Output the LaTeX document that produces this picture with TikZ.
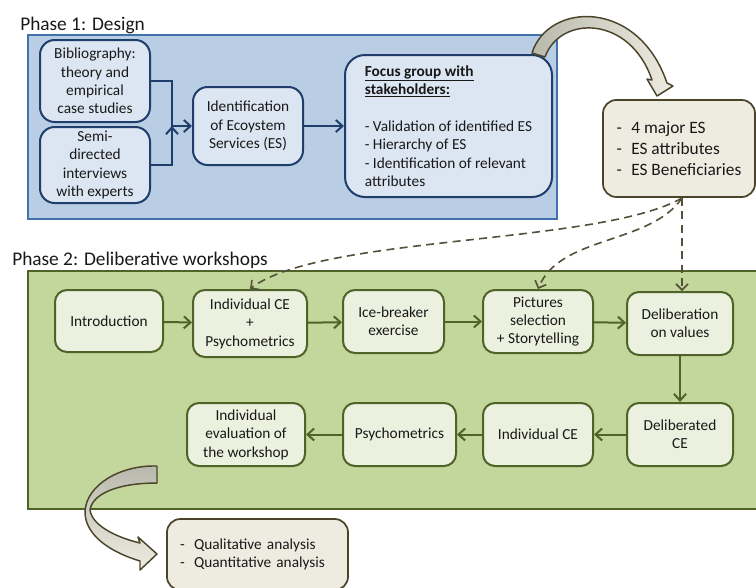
\documentclass[tikz,border=0pt]{standalone}
\usepackage{fontspec}
\setmainfont{Carlito}
\usepackage{tikz}
\usetikzlibrary{arrows.meta}
\definecolor{blueback}{HTML}{B9CDE5}
\definecolor{blueedge}{HTML}{4272AE}
\definecolor{bluelight}{HTML}{DCE6F2}
\definecolor{bluedark}{HTML}{1F3E6B}
\definecolor{greenback}{HTML}{C3D69B}
\definecolor{greenlight}{HTML}{EBF1DE}
\definecolor{greendark}{HTML}{4F6228}
\definecolor{beige}{HTML}{EEECE1}
\definecolor{olivedark}{HTML}{4A452A}
\definecolor{dashcol}{HTML}{545039}
\definecolor{arrowgray}{HTML}{B8B8AC}
\newcommand{\boxfont}{\fontsize{11.5}{13.8}\selectfont}
\tikzstyle{phaselabel}=[anchor=base west, inner sep=0pt, font=\fontsize{14.5}{17}\selectfont, text=black!90]
\tikzstyle{blueframe}=[draw=blueedge, fill=blueback, line width=1.1pt]
\tikzstyle{greenframe}=[draw=greendark, fill=greenback, line width=1.1pt]
\tikzstyle{bluebox}=[draw=bluedark, fill=bluelight, line width=1.5pt, rounded corners=11pt, align=center, inner sep=0pt, font=\boxfont, text=black!90]
\tikzstyle{greenbox}=[draw=greendark, fill=greenlight, line width=1.5pt, rounded corners=9pt, align=center, inner sep=0pt, font=\boxfont, text=black!90]
\tikzstyle{beigebox}=[draw=olivedark, fill=beige, line width=1.3pt, rounded corners=10pt, align=left, text=black!90]
\tikzstyle{arrowblue}=[draw=bluedark, line width=1.5pt, -{Straight Barb[length=5pt,width=9pt]}]
\tikzstyle{arrowgreen}=[draw=greendark, line width=1.5pt, -{Straight Barb[length=5pt,width=9pt]}]
\tikzstyle{dasharrow}=[draw=dashcol, line width=1.2pt, dash pattern=on 6pt off 4pt, -{Straight Barb[length=4.5pt,width=9pt]}]
\tikzstyle{blockarrow}=[draw=olivedark, line width=1.1pt, line join=round]

\begin{document}
\begin{tikzpicture}[x=0.75pt, y=-0.75pt]
   \useasboundingbox (0,0) rectangle (756,587);
   \clip (0,0) rectangle (756,587);
   % phase 1
   \begin{scope}
      \node[phaselabel] (phaseone) at (20,30) {Phase 1: Design};
      \path[blueframe] (28,35) rectangle (557,219);
      \node (biblio) at (95,81)[bluebox, minimum width=82.5pt, minimum height=61.5pt] {Bibliography:\\theory and\\empirical\\case studies};
      \node (semi) at (95,165)[bluebox, minimum width=82.5pt, minimum height=57pt] {Semi-\\directed\\interviews\\with experts};
      \node (ident) at (248,126)[bluebox, minimum width=82.5pt, minimum height=58.5pt] {Identification\\of Ecoystem\\Services (ES)};
      \node (focus) at (448.5,126)[bluebox, rounded corners=15pt, align=left, minimum width=155.25pt, minimum height=106.5pt] {\underline{\textbf{Focus group with}}\\\underline{\textbf{stakeholders:}}\\[13.8pt]- Validation of identified ES\\- Hierarchy of ES\\- Identification of relevant\\attributes};
      \coordinate (join) at (172,126);
   \end{scope}
   \begin{scope}
      \draw[arrowblue, -] (biblio.east) -| (join);
      \draw[arrowblue, -] (semi.east) -| (join);
      \path[arrowblue] (join) edge (ident.west);
      \path[arrowblue] (ident) edge (focus);
   \end{scope}
   % results of phase 1
   \node (major) at (679,148.5)[beigebox, minimum width=114pt, minimum height=72.75pt, font=\fontsize{13}{15.75}\selectfont] {-\hspace{7pt}4 major ES\\-\hspace{7pt}ES attributes\\-\hspace{7pt}ES Beneficiaries};
   \path[blockarrow, left color=arrowgray, right color=beige] (532,53) .. controls (548,2) and (638,-2) .. (667,83) -- (673,86) -- (657,96) -- (647,79) -- (652,80) .. controls (630,15) and (560,15) .. (545,57) -- cycle;
   % phase 2
   \begin{scope}
      \node[phaselabel] (phasetwo) at (12,265) {Phase 2: Deliberative workshops};
      \path[greenframe] (28,271) rectangle (770,509);
      \node (intro) at (109,321)[greenbox, minimum width=81pt, minimum height=46.5pt] {Introduction};
      \node (indce) at (250,323.5)[greenbox, minimum width=85.5pt, minimum height=50.25pt] {Individual CE\\+\\Psychometrics};
      \node (icebreak) at (393.5,321.5)[greenbox, minimum width=75.75pt, minimum height=47.25pt] {Ice-breaker\\exercise};
      \node (pictures) at (538,321.5)[greenbox, minimum width=82.5pt, minimum height=47.25pt] {Pictures\\selection\\+ Storytelling};
      \node (delib) at (680,323.5)[greenbox, minimum width=79.5pt, minimum height=47.25pt] {Deliberation\\on values};
      \node (delibce) at (680,434.5)[greenbox, minimum width=79.5pt, minimum height=47.25pt] {Deliberated\\CE};
      \node (indce2) at (538,434.5)[greenbox, minimum width=82.5pt, minimum height=47.25pt] {Individual CE};
      \node (psycho) at (399.5,434.5)[greenbox, minimum width=84.75pt, minimum height=47.25pt] {Psychometrics};
      \node (evalws) at (246,434.5)[greenbox, minimum width=88.5pt, minimum height=47.25pt] {Individual\\evaluation of\\the workshop};
   \end{scope}
   \begin{scope}
      \path[arrowgreen] (intro) edge (indce);
      \path[arrowgreen] (indce) edge (icebreak);
      \path[arrowgreen] (icebreak) edge (pictures);
      \path[arrowgreen] (pictures) edge (delib);
      \path[arrowgreen] (delib) edge (delibce);
      \path[arrowgreen] (delibce) edge (indce2);
      \path[arrowgreen] (indce2) edge (psycho);
      \path[arrowgreen] (psycho) edge (evalws);
   \end{scope}
   % links from phase 1 results
   \coordinate (src) at (682,198);
   \begin{scope}
      \draw[dasharrow] (src) .. controls (600,245) and (320,235) .. (indce.north);
      \draw[dasharrow] (src) .. controls (650,245) and (560,235) .. (pictures.north);
      \draw[dasharrow] (src) -- (src |- delib.north);
   \end{scope}
   % results of phase 2
   \path[blockarrow, top color=arrowgray, bottom color=beige] (157,466) .. controls (120,465) and (86,485) .. (85,512) .. controls (85,535) and (110,552) .. (140,561) -- (140,570) -- (157,554) -- (138,537) -- (140,543) .. controls (115,537) and (92,525) .. (90,510) .. controls (92,495) and (115,483) .. (157,483) -- cycle;
   \node (analysis) at (257.5,554.5)[beigebox, inner xsep=9.75pt, text width=116.25pt, minimum height=53.25pt, font=\boxfont] {-\hspace{7pt}Qualitative analysis\\-\hspace{7pt}Quantitative analysis};
\end{tikzpicture}
\end{document}
